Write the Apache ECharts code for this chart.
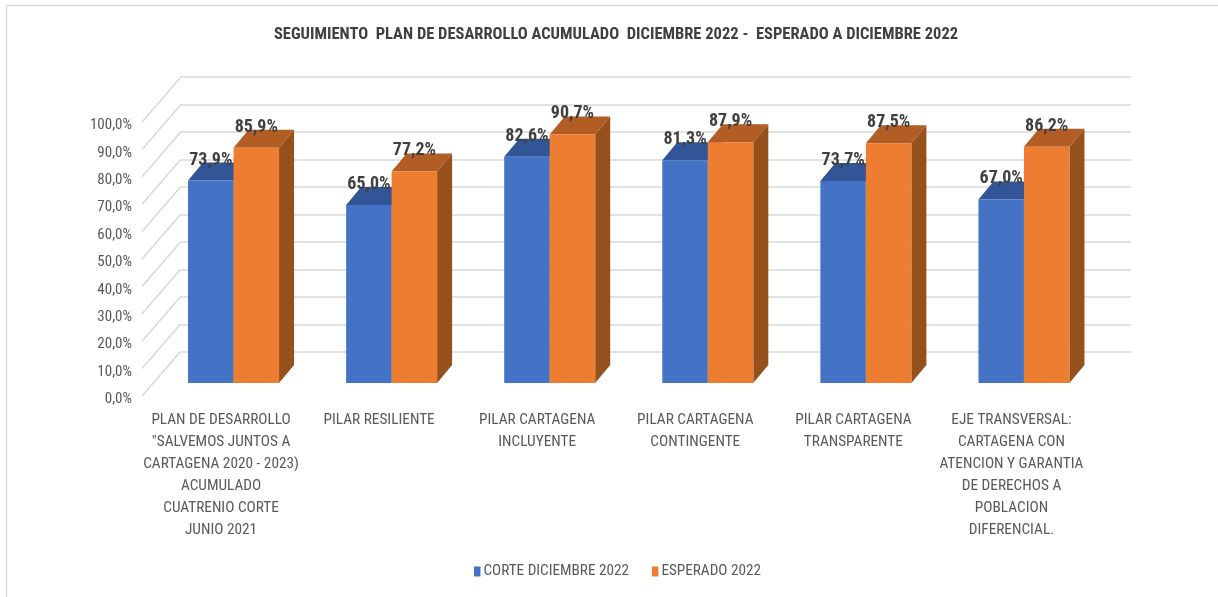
<!DOCTYPE html>
<html>
<head>
<meta charset="utf-8">
<title>Seguimiento plan de desarrollo</title>
<style>
    html, body { margin: 0; padding: 0; background: #fff; }
    #chart { width: 1218px; height: 597px; }
</style>
<script src="https://cdn.jsdelivr.net/npm/echarts@6/dist/echarts.min.js"></script>
</head>
<body>
<div id="chart"></div>
<script>
const categories = [
    'PLAN DE DESARROLLO\n"SALVEMOS JUNTOS A\nCARTAGENA 2020 - 2023)\nACUMULADO\nCUATRENIO CORTE\nJUNIO 2021',
    'PILAR RESILIENTE',
    'PILAR CARTAGENA\nINCLUYENTE',
    'PILAR CARTAGENA\nCONTINGENTE',
    'PILAR CARTAGENA\nTRANSPARENTE',
    'EJE TRANSVERSAL:\nCARTAGENA CON\nATENCION Y GARANTIA\nDE DERECHOS A\nPOBLACION\nDIFERENCIAL.'
];
const corte = [73.9, 65.0, 82.6, 81.3, 73.7, 67.0];
const esperado = [85.9, 77.2, 90.7, 87.9, 87.5, 86.2];
const ticks = [0, 10, 20, 30, 40, 50, 60, 70, 80, 90, 100];

const font = '"Roboto Condensed", "Liberation Sans", sans-serif';
const chart = echarts.init(document.getElementById('chart'));

// fake 3d: bars are drawn as three faces, depth is a fixed pixel offset
const barDepth = [15, -18];
const barWidth = 45.5;

function barItem(offset, front, top, side) {
    return function (params, api) {
        const p = api.coord([api.value(0), api.value(1)]);
        const base = api.coord([api.value(0), 0]);
        const x0 = p[0] + offset * barWidth;
        const x1 = x0 + barWidth;
        const dx = barDepth[0], dy = barDepth[1];
        return {
            type: 'group',
            children: [
                { type: 'polygon', shape: { points: [[x1, p[1]], [x1 + dx, p[1] + dy], [x1 + dx, base[1] + dy], [x1, base[1]]] }, style: { fill: side } },
                { type: 'polygon', shape: { points: [[x0, p[1]], [x0 + dx, p[1] + dy], [x1 + dx, p[1] + dy], [x1, p[1]]] }, style: { fill: top } },
                { type: 'rect', shape: { x: x0, y: p[1], width: barWidth, height: base[1] - p[1] }, style: { fill: front } }
            ]
        };
    };
}

function labelItem(offset) {
    return function (params, api) {
        const p = api.coord([api.value(0), api.value(1)]);
        return {
            type: 'text',
            style: {
                text: api.value(1).toFixed(1).replace('.', ',') + '%',
                x: p[0] + (offset + 0.5) * barWidth,
                y: p[1] - 20.5,
                align: 'center',
                verticalAlign: 'middle',
                font: 'bold 18px ' + font,
                fill: '#404040'
            }
        };
    };
}

function wallItem(params, api) {
    const y = api.coord([0, api.value(0)])[1];
    const left = api.coord([0, 0])[0] - 79;
    return {
        type: 'line',
        shape: { x1: left - 12.5, y1: y + 13, x2: left + 25.5, y2: y - 31 },
        style: { stroke: '#D9D9D9', lineWidth: 1.6 }
    };
}

chart.setOption({
    animation: false,
    backgroundColor: '#fff',
    title: {
        text: 'SEGUIMIENTO  PLAN DE DESARROLLO ACUMULADO  DICIEMBRE 2022 -  ESPERADO A DICIEMBRE 2022',
        left: 611,
        top: 21.5,
        textAlign: 'center',
        textStyle: { fontFamily: font, fontSize: 16.5, fontWeight: 'bold', color: '#404040' }
    },
    legend: {
        left: 474,
        top: 564,
        padding: 0,
        itemWidth: 6.5,
        itemHeight: 10,
        itemGap: 23,
        itemStyle: { borderWidth: 0 },
        textStyle: { fontFamily: font, fontSize: 15.2, color: '#595959', padding: [0, 0, 0, -2] },
        data: [{ name: 'CORTE DICIEMBRE 2022', icon: 'rect' }, { name: 'ESPERADO 2022', icon: 'rect' }]
    },
    graphic: [
        // frame of the pasted picture, left and top edge only
        { type: 'line', silent: true, shape: { x1: 6.5, y1: 5.5, x2: 6.5, y2: 597 }, style: { stroke: '#D9D9D9', lineWidth: 1.5 } },
        { type: 'line', silent: true, shape: { x1: 6.5, y1: 5.5, x2: 1218, y2: 5.5 }, style: { stroke: '#D9D9D9', lineWidth: 1.5 } }
    ],
    grid: [
        // back wall
        { left: 180, top: 77, width: 951, height: 275 },
        // front edge, carries the labels
        { left: 142, top: 125.5, width: 948.5, height: 274 },
        // plane of the bars
        { left: 154.5, top: 109, width: 948.5, height: 274 }
    ],
    xAxis: [
        { gridIndex: 0, type: 'category', data: categories, show: false },
        {
            gridIndex: 1, type: 'category', data: categories,
            axisLine: { show: false }, axisTick: { show: false },
            axisLabel: { interval: 0, margin: 9.5, lineHeight: 22, fontFamily: font, fontSize: 15.3, color: '#595959' }
        },
        { gridIndex: 2, type: 'category', data: categories, show: false }
    ],
    yAxis: [
        {
            gridIndex: 0, type: 'value', min: 0, max: 100, interval: 10,
            axisLine: { show: false }, axisTick: { show: false }, axisLabel: { show: false },
            splitLine: { lineStyle: { color: '#D9D9D9', width: 1.6 } }
        },
        {
            gridIndex: 1, type: 'value', min: 0, max: 100, interval: 10,
            axisLine: { show: false }, axisTick: { show: false }, splitLine: { show: false },
            axisLabel: {
                margin: 10, fontFamily: font, fontSize: 15, color: '#595959',
                formatter: function (v) { return v.toFixed(1).replace('.', ',') + '%'; }
            }
        },
        { gridIndex: 2, type: 'value', min: 0, max: 100, interval: 10, show: false, splitLine: { show: false } }
    ],
    series: [
        {
            name: 'walls', type: 'custom', xAxisIndex: 2, yAxisIndex: 2, clip: false, silent: true, z: 1,
            data: ticks.map(function (v) { return [v]; }),
            encode: { y: 0 },
            renderItem: wallItem
        },
        {
            name: 'CORTE DICIEMBRE 2022', type: 'custom', xAxisIndex: 2, yAxisIndex: 2, clip: false, z: 2,
            itemStyle: { color: '#4472C4' },
            data: corte.map(function (v, i) { return [i, v]; }),
            encode: { x: 0, y: 1 },
            renderItem: barItem(-1, '#4472C4', '#325597', '#2D4C86')
        },
        {
            name: 'ESPERADO 2022', type: 'custom', xAxisIndex: 2, yAxisIndex: 2, clip: false, z: 3,
            itemStyle: { color: '#ED7D31' },
            data: esperado.map(function (v, i) { return [i, v]; }),
            encode: { x: 0, y: 1 },
            renderItem: barItem(0, '#ED7D31', '#B15D24', '#95501C')
        },
        {
            name: 'corteLabels', type: 'custom', xAxisIndex: 2, yAxisIndex: 2, clip: false, silent: true, z: 4,
            data: corte.map(function (v, i) { return [i, v]; }),
            encode: { x: 0, y: 1 },
            renderItem: labelItem(-1)
        },
        {
            name: 'esperadoLabels', type: 'custom', xAxisIndex: 2, yAxisIndex: 2, clip: false, silent: true, z: 4,
            data: esperado.map(function (v, i) { return [i, v]; }),
            encode: { x: 0, y: 1 },
            renderItem: labelItem(0)
        }
    ]
});
</script>
</body>
</html>
